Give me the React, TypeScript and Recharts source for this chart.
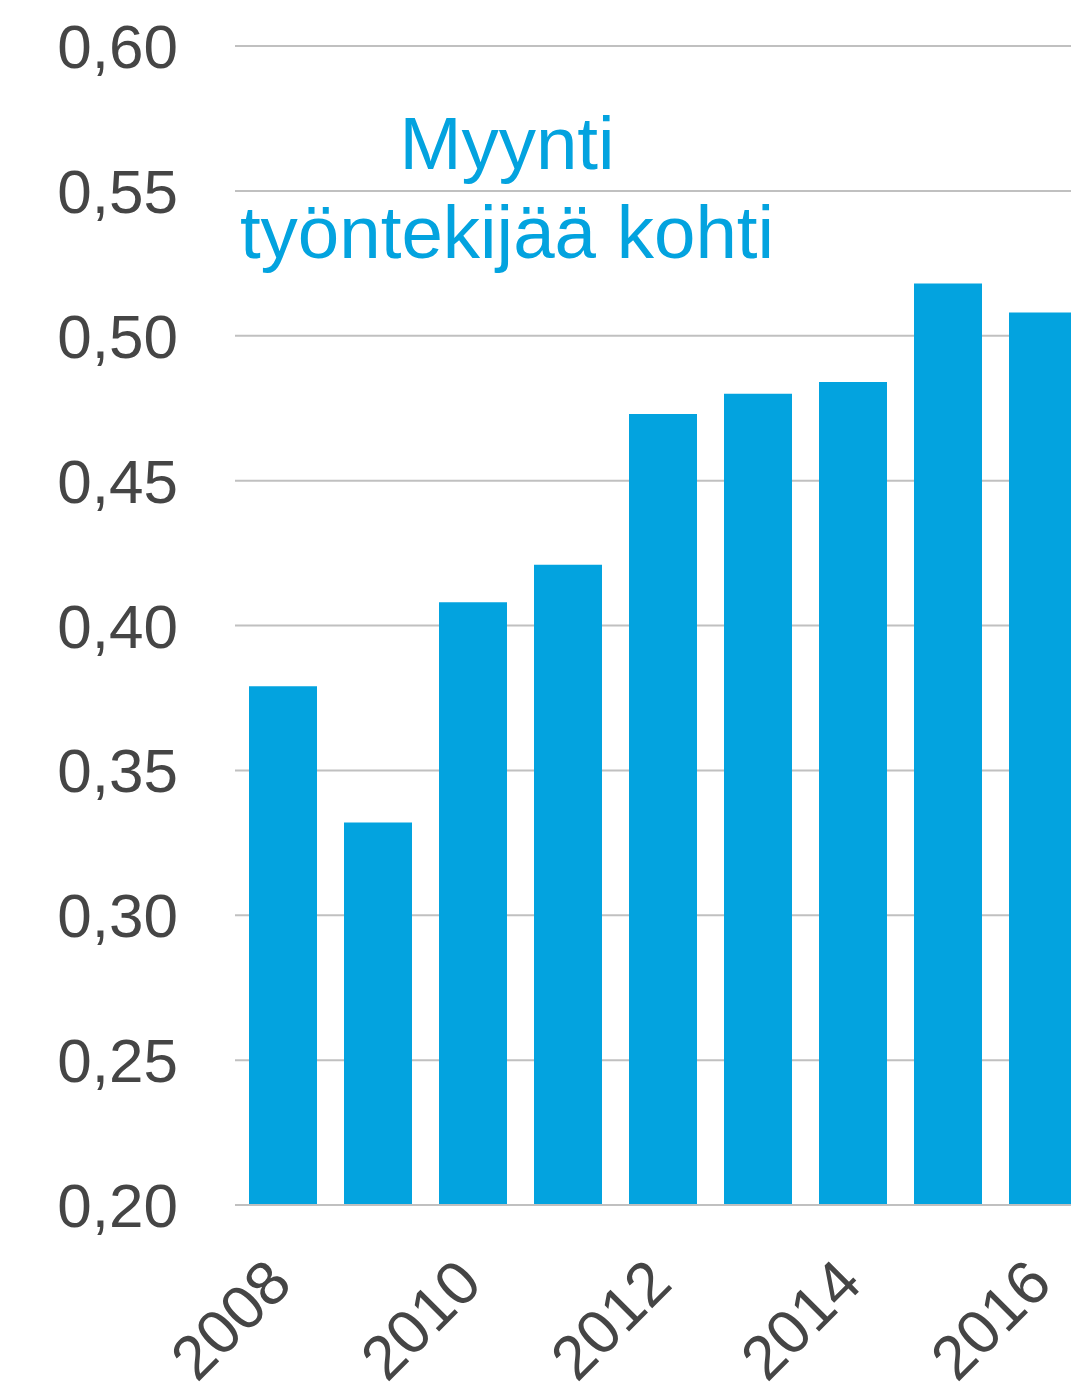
import { BarChart, Bar, XAxis, YAxis, CartesianGrid } from 'recharts';

const YEARS = ['2008', '2009', '2010', '2011', '2012', '2013', '2014', '2015', '2016'];
const SALES_PER_EMPLOYEE = [0.379, 0.332, 0.408, 0.421, 0.473, 0.48, 0.484, 0.518, 0.508];
const Y_TICKS = [0.2, 0.25, 0.3, 0.35, 0.4, 0.45, 0.5, 0.55, 0.6];
const TITLE_LINES = ['Myynti', 'työntekijää kohti'];

const BLUE = '#03a3df';
const TEXT = '#454545';
const GRID = '#c0c0c0';
const FONT = '"Liberation Sans", Arial, sans-serif';

const data = YEARS.map((year, i) => ({ year, value: SALES_PER_EMPLOYEE[i] }));

const fmt = (v: number) => v.toFixed(2).replace('.', ',');

function YearTick({ x, y, payload }: { x?: number; y?: number; payload?: { value: string } }) {
  // rotated year labels, anchored at their end just below the axis
  const tx = (x ?? 0) + 12;
  const ty = (y ?? 0) + 81;
  return (
    <text
      x={tx}
      y={ty}
      transform={`rotate(-45 ${tx} ${ty})`}
      textAnchor="end"
      fontSize={62}
      fontFamily={FONT}
      fill={TEXT}
    >
      {payload?.value}
    </text>
  );
}

export default function App() {
  return (
    <div
      style={{
        position: 'absolute',
        left: 0,
        top: 0,
        width: 1071,
        height: 1385,
        overflow: 'hidden',
        background: '#fff',
        fontFamily: FONT,
      }}
    >
      <BarChart
        width={1090}
        height={1385}
        data={data}
        margin={{ top: 46, right: 0, bottom: 0, left: 0 }}
      >
        <CartesianGrid vertical={false} stroke={GRID} strokeWidth={2} />
        <XAxis
          dataKey="year"
          interval={1}
          height={180}
          tickLine={false}
          tickSize={0}
          tickMargin={0}
          axisLine={{ stroke: GRID, strokeWidth: 2 }}
          tick={<YearTick />}
        />
        <YAxis
          domain={[0.2, 0.6]}
          ticks={Y_TICKS}
          width={235}
          axisLine={false}
          tickLine={false}
          tickSize={0}
          tickMargin={57}
          tickFormatter={fmt}
          tick={{ fontSize: 62, fill: TEXT, fontFamily: FONT }}
        />
        <Bar dataKey="value" fill={BLUE} barSize={68} isAnimationActive={false} />
      </BarChart>
      <div
        style={{
          position: 'absolute',
          left: 207,
          top: 99,
          width: 600,
          textAlign: 'center',
          fontSize: 74.5,
          lineHeight: '89px',
          color: BLUE,
          whiteSpace: 'nowrap',
        }}
      >
        {TITLE_LINES.map((line) => (
          <div key={line}>{line}</div>
        ))}
      </div>
    </div>
  );
}
